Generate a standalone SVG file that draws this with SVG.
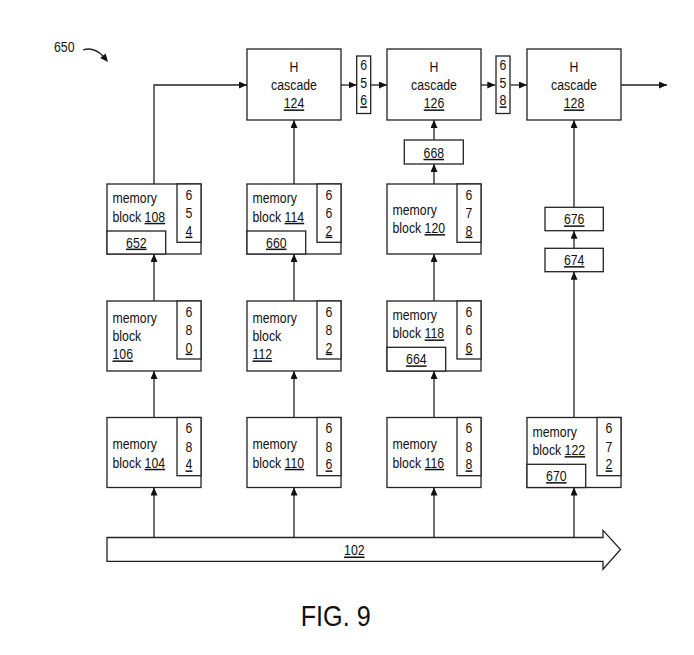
<svg xmlns="http://www.w3.org/2000/svg" width="694" height="655" viewBox="0 0 694 655">
<style>
rect, polygon.bus { fill: #fff; stroke: #222; stroke-width: 1.3; }
text { font-family: "Liberation Sans", Arial, sans-serif; font-size: 15px; fill: #111; }
.c { text-anchor: middle; }
.u { text-decoration: underline; }
.ref { font-size: 14.5px; }
.fig { font-size: 30px; }
.con { fill: none; stroke: #222; stroke-width: 1.3; }
</style>
<defs>
<marker id="ah" markerUnits="userSpaceOnUse" markerWidth="9" markerHeight="8" refX="8" refY="3.5" orient="auto">
<path d="M0,0 L8,3.5 L0,7 z" fill="#111"/>
</marker>
</defs>

<g id="label650">
<text class="ref" x="54" y="51.7" textLength="20.5" lengthAdjust="spacingAndGlyphs">650</text>
<path class="con" d="M83,50 C90,47.5 97,50 103,56"/>
<polygon points="108,62 100.2,58 105.6,53.6" fill="#111"/>
</g>

<g id="connectors">
<path class="con" d="M154,184 V85 H247" marker-end="url(#ah)"/>
<path class="con" d="M294,184 V120" marker-end="url(#ah)"/>
<path class="con" d="M341,85 H356.7" marker-end="url(#ah)"/>
<path class="con" d="M370.7,85 H387" marker-end="url(#ah)"/>
<path class="con" d="M481,85 H495.3" marker-end="url(#ah)"/>
<path class="con" d="M510.7,85 H527" marker-end="url(#ah)"/>
<path class="con" d="M621,85 H667" marker-end="url(#ah)"/>
<path class="con" d="M434,140 V120" marker-end="url(#ah)"/>
<path class="con" d="M434,184 V164" marker-end="url(#ah)"/>
<path class="con" d="M574,207.3 V120" marker-end="url(#ah)"/>
<path class="con" d="M574,248.3 V230.7" marker-end="url(#ah)"/>
<path class="con" d="M574,417 V271.7" marker-end="url(#ah)"/>
<path class="con" d="M154,301 V254" marker-end="url(#ah)"/>
<path class="con" d="M294,301 V254" marker-end="url(#ah)"/>
<path class="con" d="M434,301 V254" marker-end="url(#ah)"/>
<path class="con" d="M154,417 V371" marker-end="url(#ah)"/>
<path class="con" d="M294,417 V371" marker-end="url(#ah)"/>
<path class="con" d="M434,417 V371" marker-end="url(#ah)"/>
<path class="con" d="M154,537.5 V487.5" marker-end="url(#ah)"/>
<path class="con" d="M294,537.5 V487.5" marker-end="url(#ah)"/>
<path class="con" d="M434,537.5 V487.5" marker-end="url(#ah)"/>
<path class="con" d="M574,537.5 V487.5" marker-end="url(#ah)"/>
</g>

<g id="hcascade124">
<rect x="247" y="49" width="94" height="71"/>
<text class="c" transform="translate(294,71.7) scale(.82,1)">H</text>
<text class="c" transform="translate(294,90) scale(.82,1)">cascade</text>
<text class="c u" transform="translate(294,108.3) scale(.82,1)">124</text>
</g>
<g id="hcascade126">
<rect x="387" y="49" width="94" height="71"/>
<text class="c" transform="translate(434,71.7) scale(.82,1)">H</text>
<text class="c" transform="translate(434,90) scale(.82,1)">cascade</text>
<text class="c u" transform="translate(434,108.3) scale(.82,1)">126</text>
</g>
<g id="hcascade128">
<rect x="527" y="49" width="94" height="71"/>
<text class="c" transform="translate(574,71.7) scale(.82,1)">H</text>
<text class="c" transform="translate(574,90) scale(.82,1)">cascade</text>
<text class="c u" transform="translate(574,108.3) scale(.82,1)">128</text>
</g>

<g id="reg656">
<rect x="356.7" y="56" width="14" height="57.5"/>
<text class="c" transform="translate(363.7,70) scale(.82,1)">6</text>
<text class="c" transform="translate(363.7,87.7) scale(.82,1)">5</text>
<text class="c u" transform="translate(363.7,105.3) scale(.82,1)">6</text>
</g>
<g id="reg658">
<rect x="496" y="56" width="14" height="57.5"/>
<text class="c" transform="translate(503,70) scale(.82,1)">6</text>
<text class="c" transform="translate(503,87.7) scale(.82,1)">5</text>
<text class="c u" transform="translate(503,105.3) scale(.82,1)">8</text>
</g>

<g id="box668">
<rect x="404.3" y="140" width="59" height="24"/>
<text class="c u" transform="translate(433.8,157.7) scale(.82,1)">668</text>
</g>
<g id="box676">
<rect x="545" y="207.3" width="58.3" height="23.4"/>
<text class="c u" transform="translate(574.2,224.3) scale(.82,1)">676</text>
</g>
<g id="box674">
<rect x="545" y="248.3" width="58.3" height="23.4"/>
<text class="c u" transform="translate(574.2,265) scale(.82,1)">674</text>
</g>

<g id="mem108">
<rect x="107" y="184" width="94" height="70"/>
<rect x="177" y="184" width="24" height="58.3"/>
<rect x="107" y="231" width="58.7" height="23"/>
<text transform="translate(112.5,203.3) scale(.82,1)">memory</text>
<text transform="translate(112.5,221.7) scale(.82,1)">block <tspan class="u">108</tspan></text>
<text class="c" transform="translate(189,199.5) scale(.82,1)">6</text>
<text class="c" transform="translate(189,217.5) scale(.82,1)">5</text>
<text class="c u" transform="translate(189,235.5) scale(.82,1)">4</text>
<text class="c u" transform="translate(136.3,247.5) scale(.82,1)">652</text>
</g>
<g id="mem114">
<rect x="247" y="184" width="94" height="70"/>
<rect x="317" y="184" width="24" height="58.3"/>
<rect x="247" y="231" width="58.7" height="23"/>
<text transform="translate(252.5,203.3) scale(.82,1)">memory</text>
<text transform="translate(252.5,221.7) scale(.82,1)">block <tspan class="u">114</tspan></text>
<text class="c" transform="translate(329,199.5) scale(.82,1)">6</text>
<text class="c" transform="translate(329,217.5) scale(.82,1)">6</text>
<text class="c u" transform="translate(329,235.5) scale(.82,1)">2</text>
<text class="c u" transform="translate(276.3,247.5) scale(.82,1)">660</text>
</g>
<g id="mem120">
<rect x="387" y="184" width="94" height="70"/>
<rect x="457" y="184" width="24" height="58.3"/>
<text transform="translate(392.5,215) scale(.82,1)">memory</text>
<text transform="translate(392.5,233) scale(.82,1)">block <tspan class="u">120</tspan></text>
<text class="c" transform="translate(469,199.5) scale(.82,1)">6</text>
<text class="c" transform="translate(469,217.5) scale(.82,1)">7</text>
<text class="c u" transform="translate(469,235.5) scale(.82,1)">8</text>
</g>

<g id="mem106">
<rect x="107" y="301" width="94" height="70"/>
<rect x="177" y="301" width="24" height="58"/>
<text transform="translate(112.5,323.3) scale(.82,1)">memory</text>
<text transform="translate(112.5,341) scale(.82,1)">block</text>
<text class="u" transform="translate(112.5,359.3) scale(.82,1)">106</text>
<text class="c" transform="translate(189,316.5) scale(.82,1)">6</text>
<text class="c" transform="translate(189,334.5) scale(.82,1)">8</text>
<text class="c u" transform="translate(189,352.5) scale(.82,1)">0</text>
</g>
<g id="mem112">
<rect x="247" y="301" width="94" height="70"/>
<rect x="317" y="301" width="24" height="58"/>
<text transform="translate(252.5,323.3) scale(.82,1)">memory</text>
<text transform="translate(252.5,341) scale(.82,1)">block</text>
<text class="u" transform="translate(252.5,359.3) scale(.82,1)">112</text>
<text class="c" transform="translate(329,316.5) scale(.82,1)">6</text>
<text class="c" transform="translate(329,334.5) scale(.82,1)">8</text>
<text class="c u" transform="translate(329,352.5) scale(.82,1)">2</text>
</g>
<g id="mem118">
<rect x="387" y="301" width="94" height="70"/>
<rect x="457" y="301" width="24" height="58"/>
<rect x="387" y="347.3" width="58.7" height="23.7"/>
<text transform="translate(392.5,320) scale(.82,1)">memory</text>
<text transform="translate(392.5,338.3) scale(.82,1)">block <tspan class="u">118</tspan></text>
<text class="c" transform="translate(469,316.5) scale(.82,1)">6</text>
<text class="c" transform="translate(469,334.5) scale(.82,1)">6</text>
<text class="c u" transform="translate(469,352.5) scale(.82,1)">6</text>
<text class="c u" transform="translate(416.3,364.3) scale(.82,1)">664</text>
</g>

<g id="mem104">
<rect x="107" y="417.5" width="94" height="70"/>
<rect x="177" y="417.5" width="24" height="58.2"/>
<text transform="translate(112.5,449.3) scale(.82,1)">memory</text>
<text transform="translate(112.5,467.7) scale(.82,1)">block <tspan class="u">104</tspan></text>
<text class="c" transform="translate(189,433.3) scale(.82,1)">6</text>
<text class="c" transform="translate(189,451.5) scale(.82,1)">8</text>
<text class="c u" transform="translate(189,469.3) scale(.82,1)">4</text>
</g>
<g id="mem110">
<rect x="247" y="417.5" width="94" height="70"/>
<rect x="317" y="417.5" width="24" height="58.2"/>
<text transform="translate(252.5,449.3) scale(.82,1)">memory</text>
<text transform="translate(252.5,467.7) scale(.82,1)">block <tspan class="u">110</tspan></text>
<text class="c" transform="translate(329,433.3) scale(.82,1)">6</text>
<text class="c" transform="translate(329,451.5) scale(.82,1)">8</text>
<text class="c u" transform="translate(329,469.3) scale(.82,1)">6</text>
</g>
<g id="mem116">
<rect x="387" y="417.5" width="94" height="70"/>
<rect x="457" y="417.5" width="24" height="58.2"/>
<text transform="translate(392.5,449.3) scale(.82,1)">memory</text>
<text transform="translate(392.5,467.7) scale(.82,1)">block <tspan class="u">116</tspan></text>
<text class="c" transform="translate(469,433.3) scale(.82,1)">6</text>
<text class="c" transform="translate(469,451.5) scale(.82,1)">8</text>
<text class="c u" transform="translate(469,469.3) scale(.82,1)">8</text>
</g>
<g id="mem122">
<rect x="527" y="417.5" width="94" height="70"/>
<rect x="597" y="417.5" width="24" height="58.2"/>
<rect x="527" y="464.3" width="58.7" height="23.2"/>
<text transform="translate(532.5,436.7) scale(.82,1)">memory</text>
<text transform="translate(532.5,455) scale(.82,1)">block <tspan class="u">122</tspan></text>
<text class="c" transform="translate(609,433.3) scale(.82,1)">6</text>
<text class="c" transform="translate(609,451.5) scale(.82,1)">7</text>
<text class="c u" transform="translate(609,469.3) scale(.82,1)">2</text>
<text class="c u" transform="translate(556.3,481) scale(.82,1)">670</text>
</g>

<g id="bus102">
<polygon class="bus" points="107,537.5 603,537.5 603,530.4 620.5,549.5 603,569.3 603,561.4 107,561.4"/>
<text class="c u" transform="translate(354.3,555.4) scale(.82,1)">102</text>
</g>

<g id="caption">
<text class="c fig" x="335.7" y="626" textLength="70" lengthAdjust="spacingAndGlyphs">FIG. 9</text>
</g>
</svg>
